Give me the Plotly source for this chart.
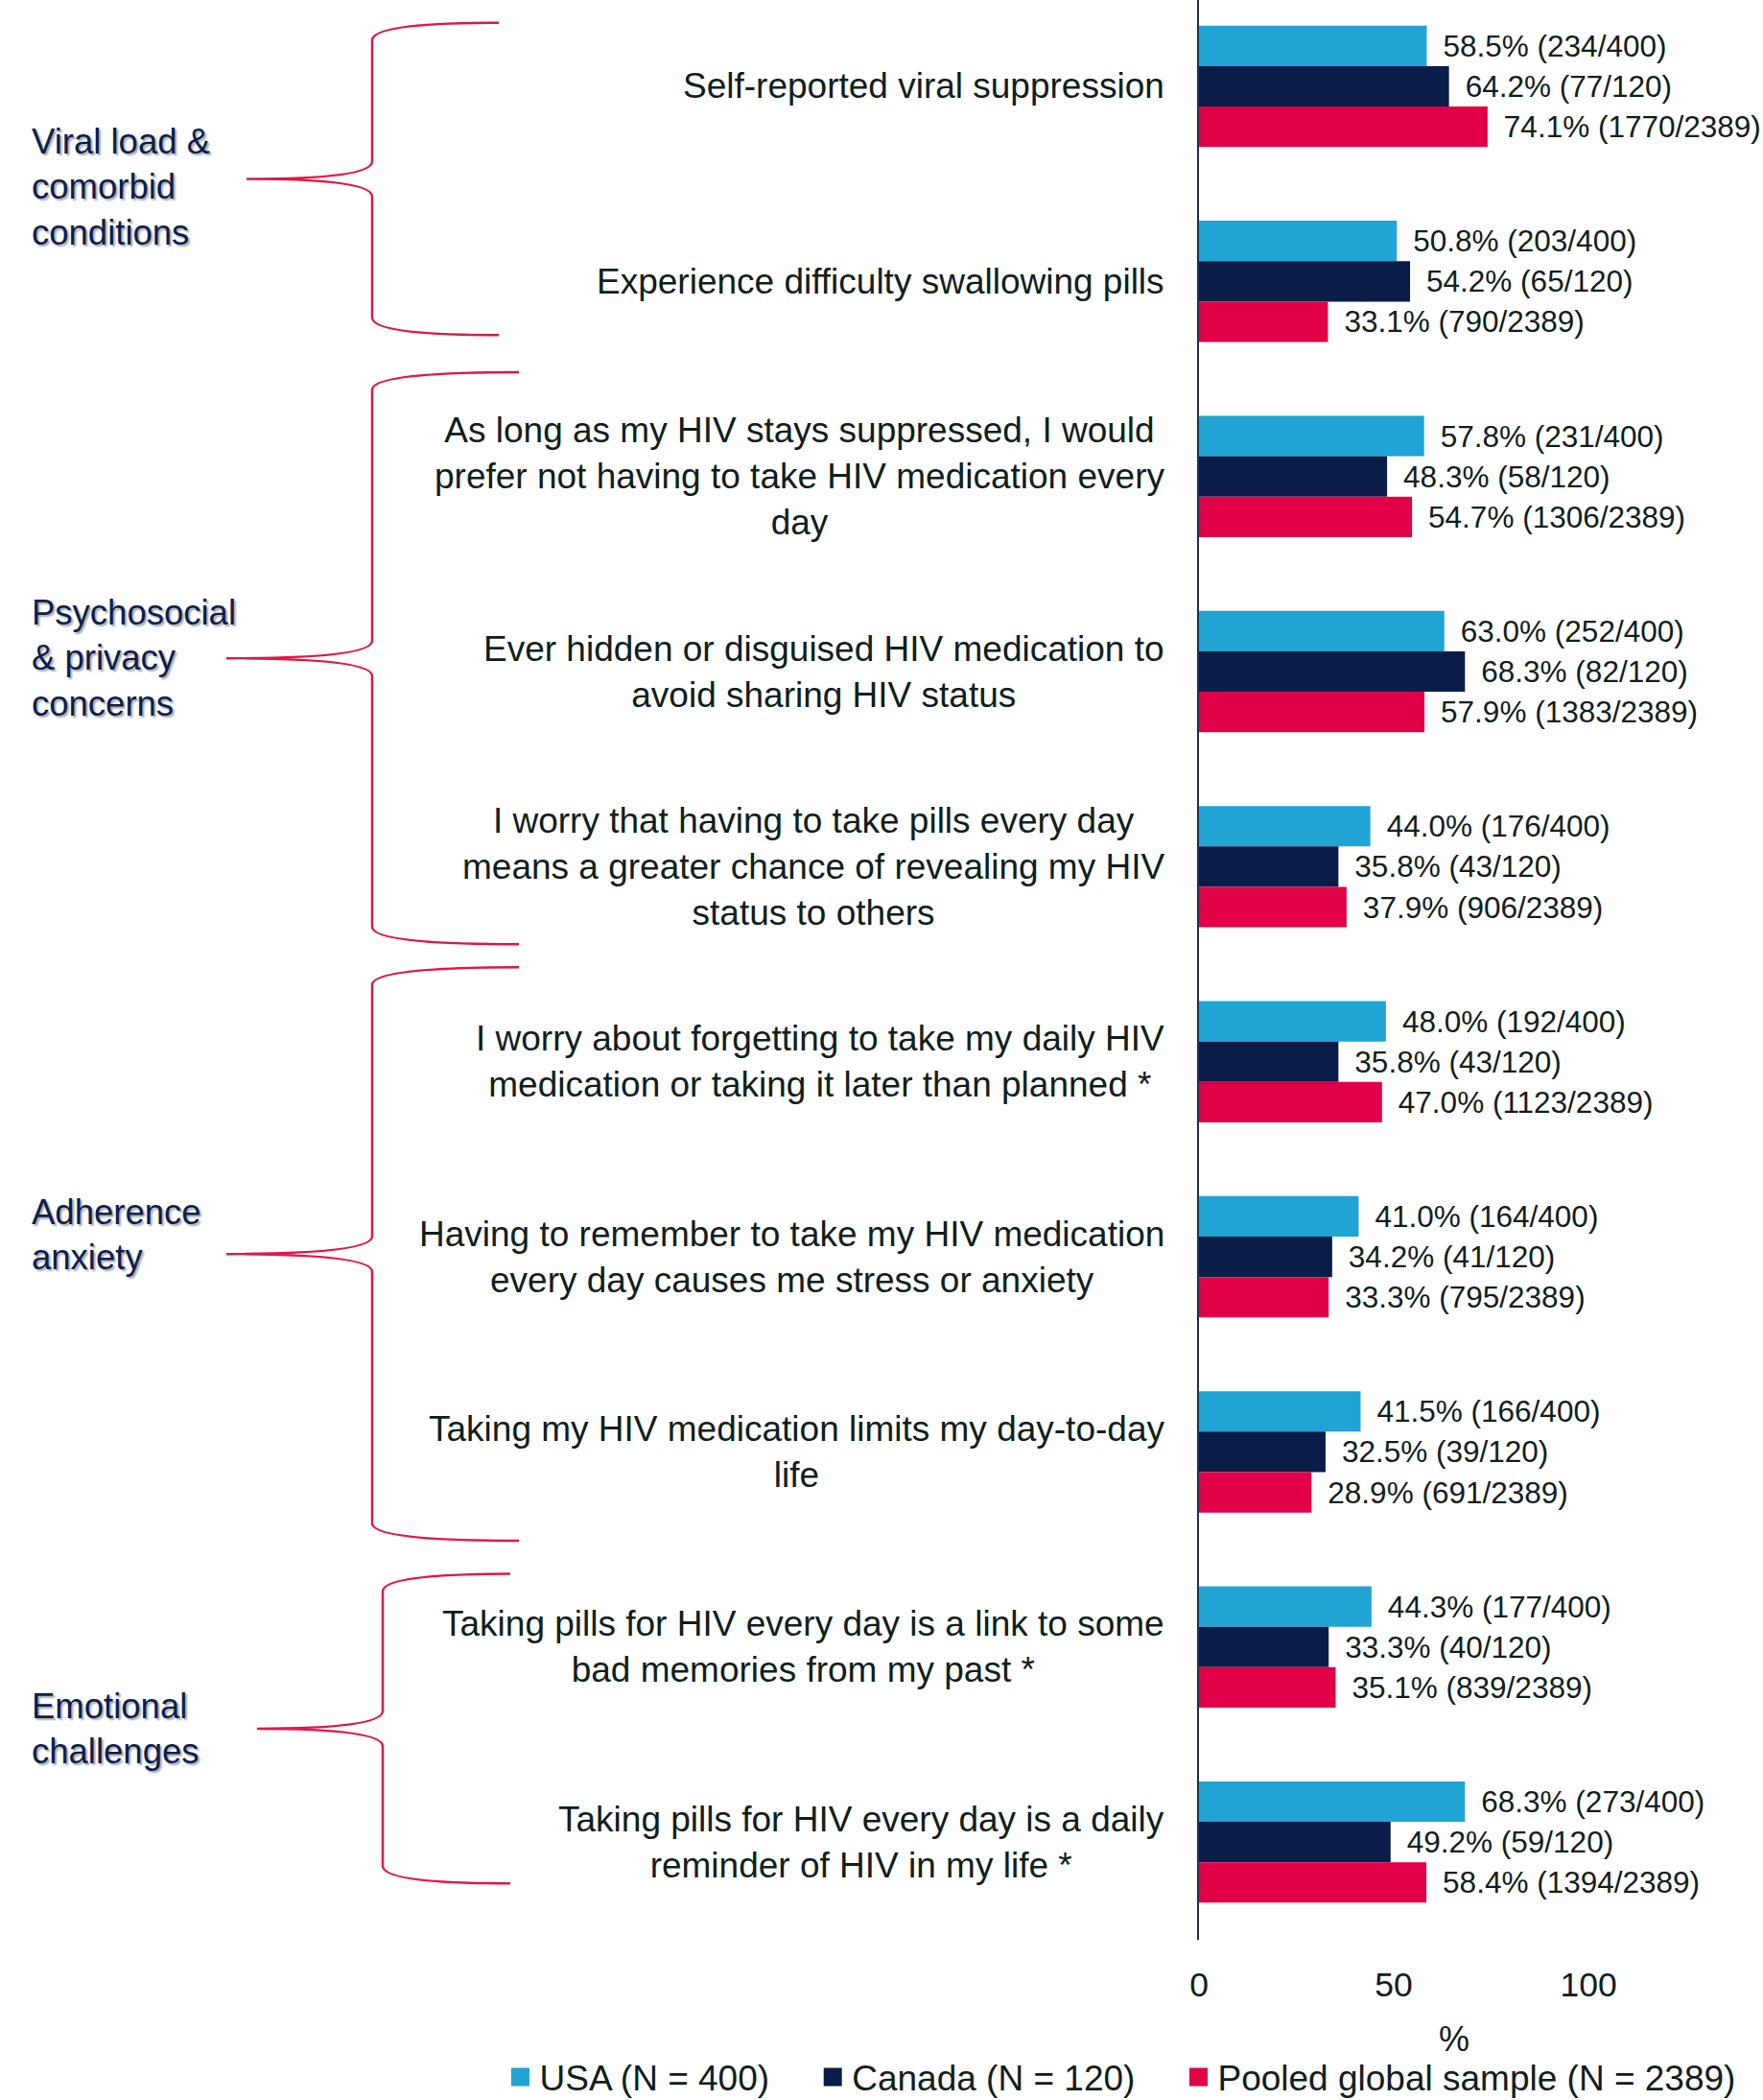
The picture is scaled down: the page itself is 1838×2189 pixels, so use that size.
import plotly.graph_objects as go

categories = [
    "Self-reported viral suppression",
    "Experience difficulty swallowing pills",
    "As long as my HIV stays suppressed, I would<br>prefer not having to take HIV medication every<br>day",
    "Ever hidden or disguised HIV medication to<br>avoid sharing HIV status",
    "I worry that having to take pills every day<br>means a greater chance of revealing my HIV<br>status to others",
    "I worry about forgetting to take my daily HIV<br>medication or taking it later than planned *",
    "Having to remember to take my HIV medication<br>every day causes me stress or anxiety",
    "Taking my HIV medication limits my day-to-day<br>life",
    "Taking pills for HIV every day is a link to some<br>bad memories from my past *",
    "Taking pills for HIV every day is a daily<br>reminder of HIV in my life *",
]

usa_pct = [58.5, 50.8, 57.8, 63.0, 44.0, 48.0, 41.0, 41.5, 44.3, 68.3]
usa_n = [234, 203, 231, 252, 176, 192, 164, 166, 177, 273]
usa_total = 400

canada_pct = [64.2, 54.2, 48.3, 68.3, 35.8, 35.8, 34.2, 32.5, 33.3, 49.2]
canada_n = [77, 65, 58, 82, 43, 43, 41, 39, 40, 59]
canada_total = 120

pooled_pct = [74.1, 33.1, 54.7, 57.9, 37.9, 47.0, 33.3, 28.9, 35.1, 58.4]
pooled_n = [1770, 790, 1306, 1383, 906, 1123, 795, 691, 839, 1394]
pooled_total = 2389

series_names = ["USA (N = 400)", "Canada (N = 120)", "Pooled global sample (N = 2389)"]

group_labels = ["Viral load &<br>comorbid<br>conditions",
                "Psychosocial<br>& privacy<br>concerns",
                "Adherence<br>anxiety",
                "Emotional<br>challenges"]
group_first = [0, 2, 5, 8]
group_last = [1, 4, 7, 9]

x_ticks = [0, 50, 100]

# ---- styling ----
W, H = 1838, 2189
colors = ["#20A4D4", "#0A1C48", "#E10047"]
txt_color = "#0f201b"
navy = "#0B1F4E"
brace_color = "#E0184A"
FONT = "Liberation Sans, Arial, sans-serif"

plot_left = 1250
px_per_pct = 4.06
plot_bottom_px = 2022.5
band_px = 203.4
first_center_px = 90.0
y_top = -first_center_px / band_px
y_bot = (plot_bottom_px - first_center_px) / band_px
x_max = (W - plot_left) / px_per_pct

# brace geometry (pixels / category units), one entry per group
brace_pad_top = [0.326, 0.534, 0.484, 0.375]
brace_pad_bot = [0.275, 0.398, 0.455, 0.212]
brace_tip_x = [257, 236, 236, 268]
brace_vert_x = [388, 388, 388, 399]
brace_end_x = [520, 541, 541, 532]
label_dy = [0.04, 0.0, -0.1, 0.0]

legend_pad = "\u00a0" * 4

ypos = list(range(len(categories)))

fig = go.Figure()
series = [(usa_pct, usa_n, usa_total), (canada_pct, canada_n, canada_total),
          (pooled_pct, pooled_n, pooled_total)]
for k, ((pct, n, tot), name, col) in enumerate(zip(series, series_names, colors)):
    fig.add_trace(go.Bar(
        y=ypos, x=pct, orientation="h", name=name,
        marker=dict(color=col, line=dict(width=0)),
        text=[f"\u00a0\u2006{p:.1f}% ({m}/{tot})" for p, m in zip(pct, n)],
        textposition="outside", cliponaxis=False, constraintext="none",
        textfont=dict(family=FONT, size=31.5, color=txt_color),
        showlegend=False, hoverinfo="skip",
    ))
    fig.add_trace(go.Scatter(
        x=[None], y=[None], mode="markers",
        name=name + (legend_pad if k < len(series) - 1 else ""),
        marker=dict(symbol="square", size=16, color=col,
                    line=dict(color=col, width=3)),
        showlegend=True, hoverinfo="skip",
    ))

annotations = []
for i, c in enumerate(categories):
    annotations.append(dict(
        x=1216 / W, xref="paper", y=i, yref="y", text=c, showarrow=False,
        xanchor="right", yanchor="middle", align="center",
        font=dict(family=FONT, size=37, color=txt_color)))

shapes = []
for gi, (lab, a, b) in enumerate(zip(group_labels, group_first, group_last)):
    top = a - brace_pad_top[gi]
    bot = b + brace_pad_bot[gi]
    mid = (top + bot) / 2
    c = 0.09
    ex, vx, tx = brace_end_x[gi] / W, brace_vert_x[gi] / W, brace_tip_x[gi] / W
    path = (f"M {ex},{top} Q {vx},{top} {vx},{top + c} "
            f"L {vx},{mid - c} Q {vx},{mid} {tx},{mid} "
            f"Q {vx},{mid} {vx},{mid + c} "
            f"L {vx},{bot - c} Q {vx},{bot} {ex},{bot}")
    shapes.append(dict(type="path", path=path, xref="paper", yref="y",
                       line=dict(color=brace_color, width=2.5)))
    annotations.append(dict(
        x=31 / W, xref="paper", y=mid + label_dy[gi], yref="y", text=lab,
        showarrow=False, xanchor="left", yanchor="middle", align="left",
        font=dict(family=FONT, size=36.5, color=navy,
                  shadow="2px 2px 2px rgba(0,0,0,0.35)")))

annotations.append(dict(
    x=1516 / W, xref="paper", y=-(2126 - plot_bottom_px) / plot_bottom_px,
    yref="paper", text="%", showarrow=False, xanchor="center", yanchor="middle",
    font=dict(family=FONT, size=36, color=txt_color)))

fig.update_layout(
    width=W, height=H,
    margin=dict(l=0, r=0, t=0, b=H - plot_bottom_px, pad=0, autoexpand=False),
    paper_bgcolor="white", plot_bgcolor="white",
    barmode="group", bargap=0.378, bargroupgap=0,
    font=dict(family=FONT, color=txt_color),
    xaxis=dict(domain=[plot_left / W, 1], range=[0, x_max],
               tickvals=x_ticks, ticktext=[str(t) for t in x_ticks],
               showgrid=False, zeroline=False, showline=False, ticks="",
               ticklabelstandoff=22, automargin=False,
               tickfont=dict(family=FONT, size=35.5, color=txt_color)),
    yaxis=dict(range=[y_bot, y_top], showgrid=False, zeroline=False,
               showticklabels=False, ticks="", showline=True, automargin=False,
               linecolor="#22305a", linewidth=2),
    legend=dict(orientation="h", x=(550.5 - 28) / W, xanchor="left",
                y=-(2166 - plot_bottom_px) / plot_bottom_px, yanchor="middle",
                font=dict(family=FONT, size=37, color=txt_color),
                bgcolor="rgba(0,0,0,0)", itemwidth=30, tracegroupgap=0),
    annotations=annotations, shapes=shapes,
)

fig.write_html(
    "out.html",
    config={"displayModeBar": False},
    post_script=(
        "document.documentElement.style.margin='0';"
        "document.documentElement.style.padding='0';"
        "document.documentElement.style.overflow='hidden';"
        "document.body.style.margin='0';"
        "document.body.style.padding='0';"
        "document.body.style.overflow='hidden';"
        "document.body.style.height='2189px';"
    ),
)
